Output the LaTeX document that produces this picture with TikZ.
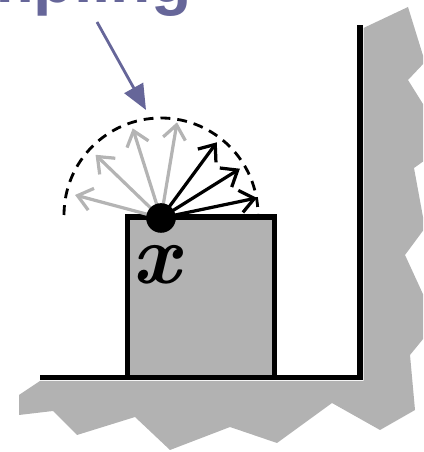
\documentclass[tikz,border=0pt]{standalone}
\usepackage{fontspec}
\setsansfont{Liberation Sans}
\usetikzlibrary{arrows.meta}
\definecolor{slate}{HTML}{666699}
\definecolor{rock}{HTML}{B2B2B2}
\definecolor{faded}{HTML}{B4B4B4}
\newcommand{\hugefont}{\fontsize{60}{60}\selectfont}
\newcommand{\wordfont}{\fontsize{47}{47}\selectfont}

\begin{document}
\begin{tikzpicture}[
    x=0.025cm, y=0.025cm,
    every node/.style={inner sep=0pt},
    ground/.style={fill=rock, draw=none},
    edgeline/.style={line width=4.2pt, line join=miter},
    block/.style={fill=rock, draw=black, line width=4.2pt},
    hemi/.style={dash pattern=on 7pt off 5pt, line width=2pt},
    ray/.style={line width=2.3pt, -{Straight Barb[length=10pt,width=16pt]}},
    oldray/.style={ray, draw=faded},
    newray/.style={ray, draw=black},
    spot/.style={circle, fill=black, minimum size=0.74cm},
    pointer/.style={draw=slate, line width=2pt, -{Triangle[length=18pt,width=15pt]}},
    title/.style={font={\sffamily\bfseries\wordfont}, text=slate},
    pointlabel/.style={font={\rmfamily\bfseries\itshape\hugefont}},
]
\clip (0,0) rectangle (423,452);

% rough ground behind the corner
\fill[ground] (363.5,71) -- (363.5,424) -- (408,445) -- (425,390) -- (408,372)
    -- (428,340) -- (428,294) -- (414,284) -- (425,224) -- (405,197)
    -- (428,147) -- (428,119) -- (410,97) -- (415,42) -- (380,22)
    -- (332,49) -- (277,9) -- (230,25) -- (170,2) -- (135,35) -- (77,17)
    -- (53,41) -- (19,37) -- (19,57) -- (40,71) -- cycle;
\draw[edgeline] (40,74.5) -- (360,74.5) -- (360,427);

\draw[block] (127.5,74.5) rectangle (274.5,235);
\draw[hemi] (64,237) arc[start angle=180, end angle=0, radius=97];

\coordinate (o) at (161,234);
\foreach \ang/\len in {165/89, 136/91, 107.5/94, 80.5/97}
    \draw[oldray] (o) -- ++(\ang:\len);
\foreach \ang/\len in {53.6/94, 32/93, 11.8/98}
    \draw[newray] (o) -- ++(\ang:\len);
\node[spot] (dot) at (o) {};
\node[pointlabel] (xmark) at (156,187) {x};

\node[title, anchor=base east] (word) at (192,449) {Sampling};
\coordinate (from) at (97,430);
\coordinate (aim) at (146,342);
\draw[pointer] (from) -- (aim);
\end{tikzpicture}
\end{document}
